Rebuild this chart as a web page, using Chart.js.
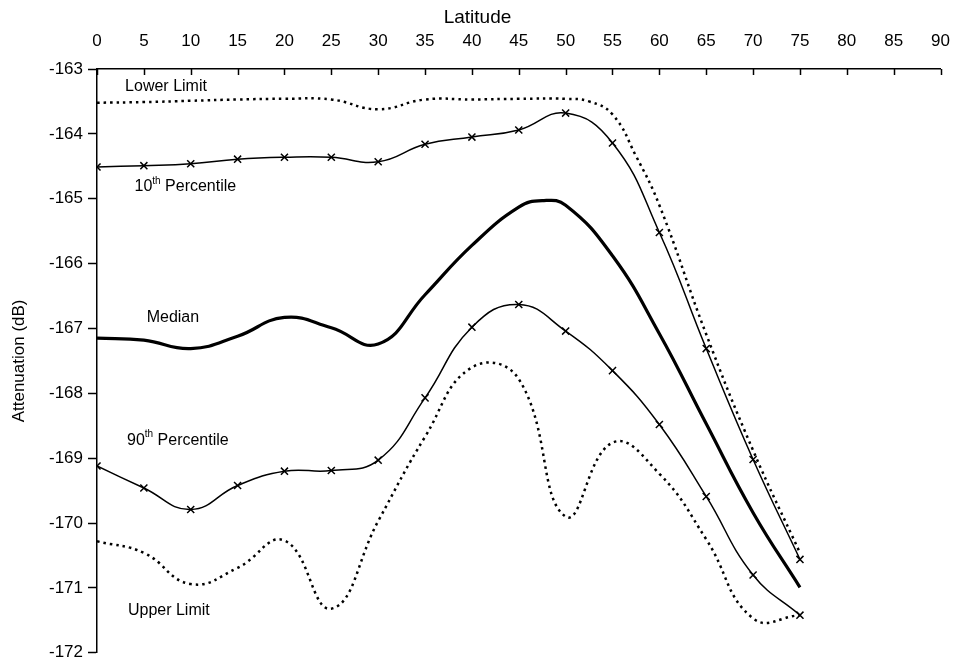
<!DOCTYPE html>
<html>
<head>
<meta charset="utf-8">
<script src="https://cdn.jsdelivr.net/npm/chart.js@4"></script>
<style>
  html, body { margin: 0; padding: 0; background: #fff; }
</style>
</head>
<body>
<canvas id="chart" width="967" height="668"></canvas>
<script>
// Latitude ticks 0..90, attenuation -163..-172 dB
const latTicks = [0, 5, 10, 15, 20, 25, 30, 35, 40, 45, 50, 55, 60, 65, 70, 75, 80, 85, 90];

const pctLat = [0, 5, 10, 15, 20, 25, 30, 35, 40, 45, 50, 55, 60, 65, 70, 75];
const p10 = [-164.51, -164.49, -164.46, -164.39, -164.36, -164.36, -164.43, -164.16, -164.05, -163.94, -163.68, -164.14, -165.52, -167.31, -169.02, -170.56];
const p90 = [-169.12, -169.46, -169.79, -169.42, -169.20, -169.19, -169.03, -168.07, -166.98, -166.63, -167.04, -167.65, -168.48, -169.59, -170.80, -171.42];

const medianLat = [0, 5, 10, 15, 20, 25, 30, 35, 40, 45, 47.5, 50, 55, 60, 65, 70, 75];
const median = [-167.15, -167.18, -167.31, -167.12, -166.83, -166.99, -167.24, -166.48, -165.72, -165.13, -165.03, -165.10, -165.88, -167.08, -168.47, -169.84, -170.99];

const lowerLat = [0, 5, 10, 15, 20, 25, 30, 35, 40, 45, 50, 52.5, 55, 57.5, 60, 65, 70, 75];
const lowerLimit = [-163.52, -163.51, -163.49, -163.47, -163.46, -163.47, -163.62, -163.47, -163.47, -163.46, -163.46, -163.50, -163.70, -164.34, -165.10, -167.09, -168.88, -170.46];

const upperLat = [0, 5, 10, 15, 20, 25, 30, 35, 40, 45, 50, 55, 60, 65, 70, 75];
const upperLimit = [-170.28, -170.46, -170.94, -170.69, -170.27, -171.32, -169.97, -168.67, -167.60, -167.78, -169.90, -168.76, -169.24, -170.25, -171.47, -171.42];

// curve labels: [main text, superscript, rest, latitude, dB]
const curveLabels = [
  ['Lower Limit', '', '', 3.0, -163.27],
  ['10', 'th', ' Percentile', 4.0, -164.82],
  ['Median', '', '', 5.3, -166.84],
  ['90', 'th', ' Percentile', 3.2, -168.73],
  ['Upper Limit', '', '', 3.3, -171.35]
];

const FONT = 'Arial, "Liberation Sans", Helvetica, sans-serif';

function pts(xs, ys) {
  return xs.map((x, i) => ({ x: x, y: ys[i] }));
}

const labelPlugin = {
  id: 'curveLabels',
  afterDraw(chart) {
    const ctx = chart.ctx;
    const xs = chart.scales.x;
    const ys = chart.scales.y;
    ctx.save();
    // small inward tick marks on the top axis
    ctx.strokeStyle = '#000';
    ctx.lineWidth = 1.5;
    latTicks.forEach(v => {
      const px = Math.round(xs.getPixelForValue(v)) + 0.5;
      ctx.beginPath();
      ctx.moveTo(px, ys.top);
      ctx.lineTo(px, ys.top + 6);
      ctx.stroke();
    });
    ctx.fillStyle = '#000';
    ctx.textBaseline = 'middle';
    ctx.textAlign = 'left';
    curveLabels.forEach(l => {
      let x = xs.getPixelForValue(l[3]);
      const y = ys.getPixelForValue(l[4]);
      ctx.font = '16px ' + FONT;
      ctx.fillText(l[0], x, y);
      x += ctx.measureText(l[0]).width;
      if (l[1]) {
        ctx.font = '10px ' + FONT;
        ctx.fillText(l[1], x, y - 6);
        x += ctx.measureText(l[1]).width;
        ctx.font = '16px ' + FONT;
        ctx.fillText(l[2], x, y);
      }
    });
    ctx.restore();
  }
};

new Chart(document.getElementById('chart').getContext('2d'), {
  type: 'line',
  data: {
    datasets: [
      {
        label: 'Lower Limit',
        data: pts(lowerLat, lowerLimit),
        borderColor: '#000',
        borderWidth: 2.5,
        borderDash: [2.5, 4],
        pointRadius: 0,
        tension: 0.45
      },
      {
        label: '10th Percentile',
        data: pts(pctLat, p10),
        borderColor: '#000',
        borderWidth: 1.5,
        pointStyle: 'crossRot',
        pointRadius: 5,
        pointBorderWidth: 1.5,
        pointBorderColor: '#000',
        tension: 0.45
      },
      {
        label: 'Median',
        data: pts(medianLat, median),
        borderColor: '#000',
        borderWidth: 3.2,
        pointRadius: 0,
        tension: 0.45
      },
      {
        label: '90th Percentile',
        data: pts(pctLat, p90),
        borderColor: '#000',
        borderWidth: 1.5,
        pointStyle: 'crossRot',
        pointRadius: 5,
        pointBorderWidth: 1.5,
        pointBorderColor: '#000',
        tension: 0.45
      },
      {
        label: 'Upper Limit',
        data: pts(upperLat, upperLimit),
        borderColor: '#000',
        borderWidth: 2.5,
        borderDash: [2.5, 4],
        pointRadius: 0,
        tension: 0.45
      }
    ]
  },
  options: {
    responsive: false,
    animation: false,
    devicePixelRatio: 1,
    layout: { padding: { left: 0, right: 12, top: 0, bottom: 10 } },
    plugins: {
      legend: { display: false },
      tooltip: { enabled: false },
      title: {
        display: true,
        text: 'Latitude',
        color: '#000',
        font: { family: FONT, size: 19, weight: 'normal', lineHeight: 1 },
        padding: { top: 8, bottom: 3 }
      }
    },
    scales: {
      x: {
        type: 'linear',
        position: 'top',
        min: 0,
        max: 90,
        afterBuildTicks: s => { s.ticks = latTicks.map(v => ({ value: v })); },
        afterFit: s => { s.height = 39; },
        ticks: {
          color: '#000',
          font: { family: FONT, size: 17 },
          padding: 17,
          maxRotation: 0
        },
        grid: { drawOnChartArea: false, drawTicks: false },
        border: { color: '#000', width: 1.5 }
      },
      y: {
        min: -172,
        max: -163,
        afterFit: s => { s.width = 97; },
        ticks: {
          stepSize: 1,
          color: '#000',
          font: { family: FONT, size: 17 },
          padding: 5
        },
        grid: { drawOnChartArea: false, tickLength: 9, color: '#000', tickWidth: 1.5 },
        border: { color: '#000', width: 1.5 },
        title: {
          display: true,
          text: 'Attenuation (dB)',
          color: '#000',
          font: { family: FONT, size: 17 },
          padding: { top: 9, bottom: 0 }
        }
      }
    }
  },
  plugins: [labelPlugin]
});
</script>
</body>
</html>
